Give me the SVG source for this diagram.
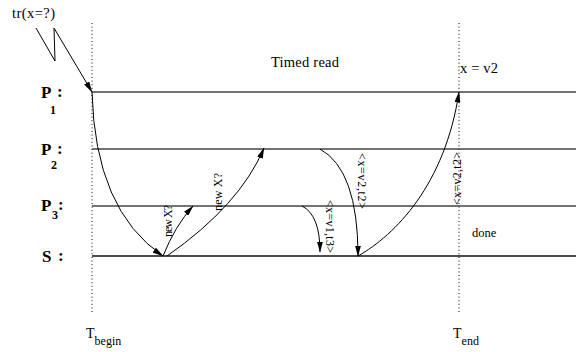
<svg xmlns="http://www.w3.org/2000/svg" width="576" height="352" viewBox="0 0 576 352">
<style>
  text { font-family: "Liberation Serif", "Times New Roman", serif; fill: #000; }
  .plabel { font-size: 17px; font-weight: bold; }
  .psub { font-size: 12px; font-weight: bold; }
  .life { stroke: #444; stroke-width: 1.4; fill: none; }
  .lifeS { stroke: #111; stroke-width: 1.3; fill: none; }
  .time { stroke: #000; stroke-width: 1; stroke-dasharray: 1 2.6; fill: none; }
  .msg { stroke: #000; stroke-width: 1; fill: none; marker-end: url(#ah); }
  .rlab { font-size: 12px; }
</style>
<defs>
  <marker id="ah" markerUnits="userSpaceOnUse" markerWidth="11" markerHeight="6" refX="10.5" refY="3" orient="auto">
    <path d="M0,0 L11,3 L0,6 z" fill="#000"/>
  </marker>
</defs>
<rect width="576" height="352" fill="#fff"/>

<g id="T_begin">
  <line class="time" x1="92" y1="23" x2="92" y2="313"/>
  <text x="86" y="338" font-size="14">T<tspan font-size="12" dy="7">begin</tspan></text>
</g>
<g id="T_end">
  <line class="time" x1="459" y1="23" x2="459" y2="313"/>
  <text x="453" y="338" font-size="14">T<tspan font-size="12" dy="7">end</tspan></text>
</g>

<g id="P1">
  <line class="life" x1="92" y1="92" x2="576" y2="92"/>
  <text class="plabel" x="41" y="98">P</text>
  <text class="psub" x="50" y="114">1</text>
  <text class="plabel" x="57" y="97">:</text>
</g>
<g id="P2">
  <line class="life" x1="92" y1="149" x2="576" y2="149"/>
  <text class="plabel" x="41" y="155">P</text>
  <text class="psub" x="51" y="169">2</text>
  <text class="plabel" x="57" y="154">:</text>
</g>
<g id="P3">
  <line class="life" x1="92" y1="206" x2="576" y2="206"/>
  <text class="plabel" x="41" y="211">P</text>
  <text class="psub" x="52" y="219">3</text>
  <text class="plabel" x="58" y="210">:</text>
</g>
<g id="S">
  <line class="lifeS" x1="92" y1="256" x2="576" y2="256"/>
  <text class="plabel" x="42" y="262">S</text>
  <text class="plabel" x="58" y="261">:</text>
</g>

<g id="connectors">
  <polyline class="msg" points="36,28 55,61 54,28 92,92"/>
  <path class="msg" d="M92,92 Q95,210 163,256"/>
  <path class="msg" d="M163,256 Q175,226 193,206"/>
  <path class="msg" d="M167,256 Q240,205 264,148"/>
  <path class="msg" d="M320,149 Q358,170 358,256"/>
  <path class="msg" d="M302,206 Q320,215 320,252"/>
  <path class="msg" d="M358,256 C395,235 445,185 459,92"/>

  <text class="rlab" font-size="11" transform="translate(172,237) rotate(-90)" textLength="32" lengthAdjust="spacing">new X?</text>
  <text class="rlab" transform="translate(222,211) rotate(-90)" textLength="38" lengthAdjust="spacing">new X?</text>
  <text class="rlab" transform="translate(357.5,153) rotate(90)" textLength="56" lengthAdjust="spacing">&lt;x=v2,t2&gt;</text>
  <text class="rlab" transform="translate(326,200) rotate(90)" textLength="53" lengthAdjust="spacing">&lt;x=v1,t3&gt;</text>
  <text class="rlab" transform="translate(461,205) rotate(-90)" textLength="53" lengthAdjust="spacing">&lt;x=v2,t2&gt;</text>
</g>

<g id="notes">
  <text x="12" y="18" font-size="14.5" textLength="43" lengthAdjust="spacing">tr(x=?)</text>
  <text x="271" y="67" font-size="14.5" textLength="68" lengthAdjust="spacing">Timed read</text>
  <text x="460" y="73" font-size="14.5" textLength="38" lengthAdjust="spacing">x = v2</text>
  <text x="472" y="237" font-size="12.5">done</text>
</g>
</svg>
